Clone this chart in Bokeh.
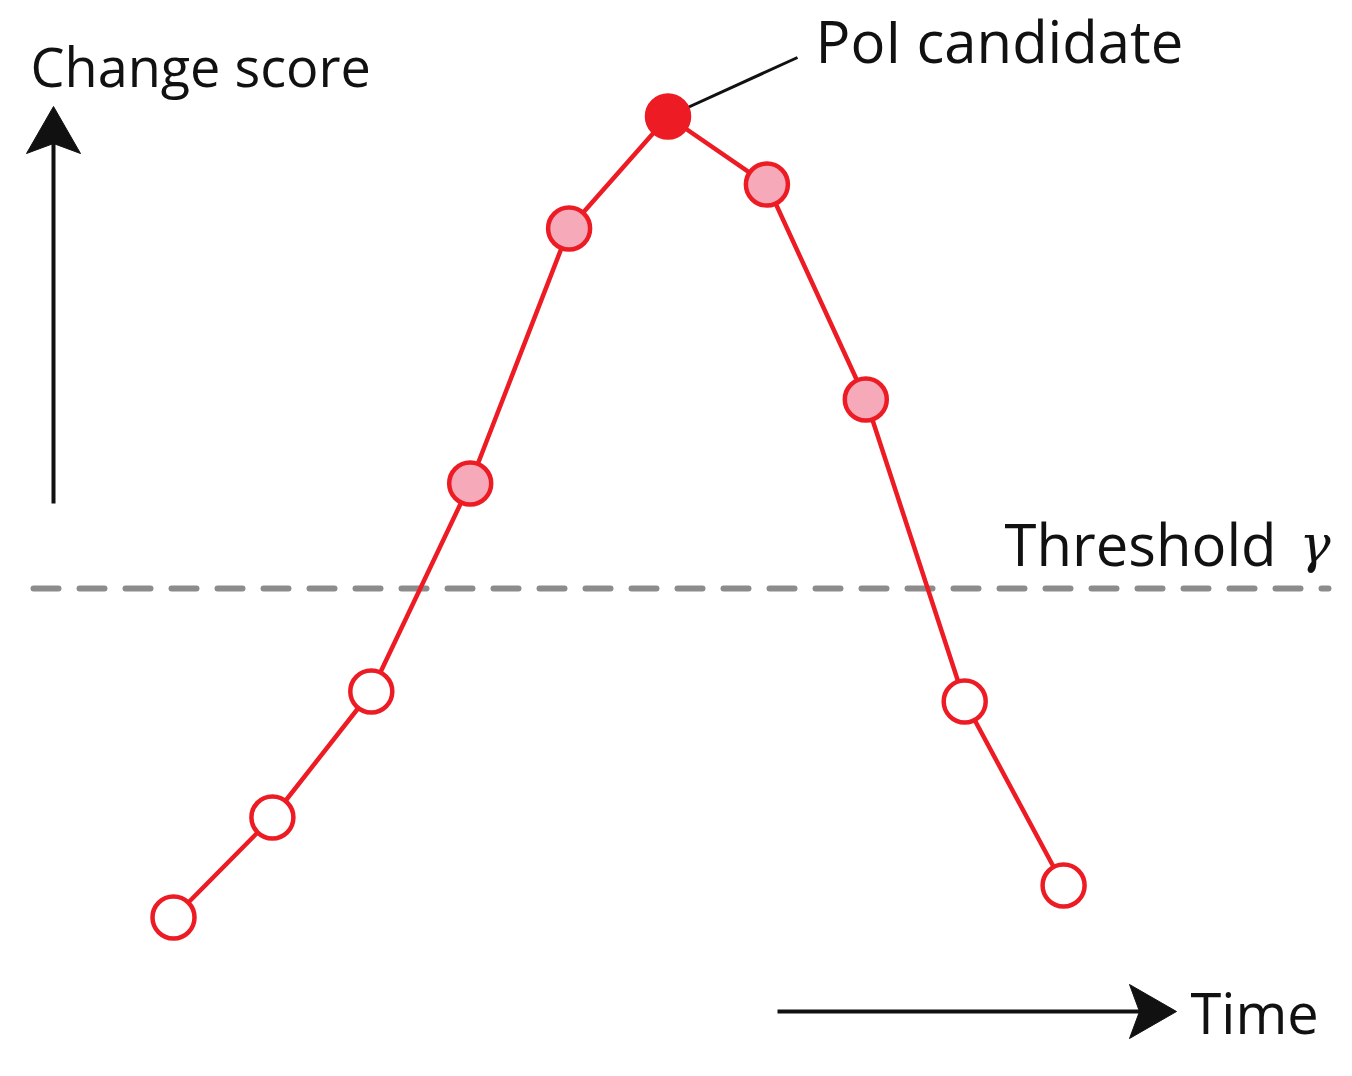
from bokeh.plotting import figure
from bokeh.models import ColumnDataSource, Range1d
from bokeh.core.properties import value
from bokeh.embed import file_html
from bokeh.resources import INLINE

# ---- data ----
time_idx = [0, 1, 2, 3, 4, 5, 6, 7, 8, 9]
score = [1.43, 2.43, 3.69, 5.77, 8.32, 9.44, 8.76, 6.61, 3.59, 1.75]
state = ["below", "below", "below", "above", "above", "candidate", "above", "above", "below", "below"]
threshold = 4.72
y_label = "Change score"
x_label = "Time"
thr_label = "Threshold"
thr_symbol = "γ"
cand_label = "PoI candidate"

RED = "#ED1C24"
PINK = "#F6A9B8"
INK = "#111111"
fill_map = {"below": "white", "above": PINK, "candidate": RED}

W, H = 1336, 1060
XPX = 98.9  # pixels per time step
x0 = -173 / XPX
p = figure(width=W, height=H, output_backend="svg", toolbar_location=None,
           x_range=Range1d(x0, x0 + W / XPX), y_range=Range1d(0, H / 100),
           min_border=0, border_fill_color="white", background_fill_color="white")
p.axis.visible = False
p.grid.visible = False
p.outline_line_color = None

def px(xp):
    return (xp - 173) / XPX

def py(yp):
    return (H - yp) / 100

FONT = value("Open Sans")

# threshold dashed line
p.line([px(33), px(1328)], [threshold, threshold], line_color="#8C8C8C",
       line_width=6, line_dash="25 21", line_cap="round")

# leader line to candidate
ci = state.index("candidate")
p.line([time_idx[ci], px(797)], [score[ci], py(57)], line_color=INK, line_width=3)

# series line and markers
src = ColumnDataSource(dict(x=time_idx, y=score, fill=[fill_map[s] for s in state]))
p.line("x", "y", source=src, line_color=RED, line_width=4.5)
p.scatter("x", "y", source=src, size=42, fill_color="fill", line_color=RED, line_width=4.5)

# axis arrows (shafts + stealth heads)
p.line([px(53), px(53)], [py(503), py(140)], line_color=INK, line_width=4)
p.patch([px(53), px(80), px(53), px(26)], [py(106), py(153), py(143), py(153)],
        fill_color=INK, line_color=INK, line_width=1)
p.line([px(777), px(1140)], [py(1011), py(1011)], line_color=INK, line_width=4)
p.patch([px(1176), px(1129), px(1139), px(1129)], [py(1011), py(984), py(1011), py(1038)],
        fill_color=INK, line_color=INK, line_width=1)

# texts
p.text([px(30)], [py(65)], text=[y_label], text_font=FONT, text_font_size="54px",
       text_color=INK, text_baseline="alphabetic", text_align="left")
p.text([px(815)], [py(40)], text=[cand_label], text_font=FONT, text_font_size="58px",
       text_color=INK, text_baseline="alphabetic", text_align="left")
p.text([px(1004)], [py(543)], text=[thr_label], text_font=FONT, text_font_size="58px",
       text_color=INK, text_baseline="alphabetic", text_align="left")
p.text([px(1299)], [py(543)], text=[thr_symbol], text_font=value("DejaVu Serif"), text_font_size="52px",
       text_font_style="italic", text_color=INK, text_baseline="alphabetic", text_align="left")
p.text([px(1190)], [py(1011)], text=[x_label], text_font=FONT, text_font_size="56px",
       text_color=INK, text_baseline="alphabetic", text_align="left")

open("out.html", "w").write(file_html(p, INLINE))
